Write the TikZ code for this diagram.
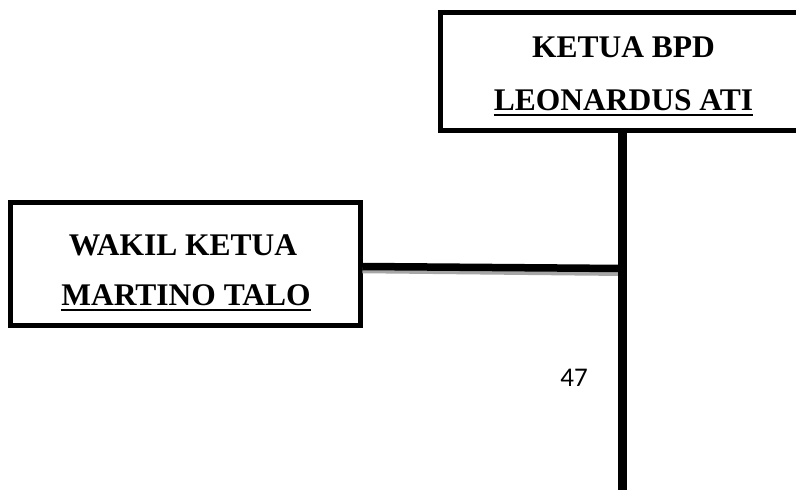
\documentclass[tikz,border=0pt]{standalone}
\usepackage{fontspec}
\setmainfont{Liberation Serif}
\newfontfamily\pagenumfont{Carlito}
% underline drawn as a rule just below the baseline
\newcommand\nameline[1]{\setbox0\hbox{#1}\rlap{\rule[-5.5pt]{\wd0}{2pt}}\box0}
\begin{document}
\begin{tikzpicture}[x=1pt,y=-1pt,
  officebox/.style={draw=black,line width=5pt,rectangle,inner sep=0pt},
  boxtext/.style={anchor=base,inner sep=0pt,font=\fontsize{31.5}{36}\selectfont\bfseries},
  trunk/.style={draw=black,line width=8.5pt},
  link/.style={draw=black,line width=7.5pt},
  linkshade/.style={draw=black!35,line width=6pt}
]
\useasboundingbox (0,0) rectangle (796,490);

% chairman box, running past the right margin
\node[officebox,minimum width=365.5pt,minimum height=118pt] (ketua) at (623.25,71.5) {};
\node[boxtext] (ketua-title) at (623.5,57) {KETUA BPD};
\node[boxtext] (ketua-name) at (623.5,110) {\nameline{LEONARDUS ATI}};

% vice chairman box
\node[officebox,minimum width=349.5pt,minimum height=123.5pt] (wakil) at (185.25,263.75) {};
\node[boxtext] (wakil-title) at (183,255) {WAKIL KETUA};
\node[boxtext] (wakil-name) at (186,305) {\nameline{MARTINO TALO}};

% main vertical line and the branch to the vice chairman
\coordinate (trunkbottom) at (622.5,494);
\coordinate (junction) at (622.5,268.5);
\coordinate (shadejunction) at (622.5,273);
\draw[linkshade] ([yshift=-6.5pt]wakil.east) -- (shadejunction);
\draw[link] ([yshift=-2.75pt]wakil.east) -- (junction);
\draw[trunk] (ketua.south -| trunkbottom) -- (trunkbottom);

% page number
\node[anchor=base,inner sep=0pt,font=\pagenumfont\fontsize{27}{32}\selectfont] (pagenum) at (574,386) {47};
\end{tikzpicture}
\end{document}
